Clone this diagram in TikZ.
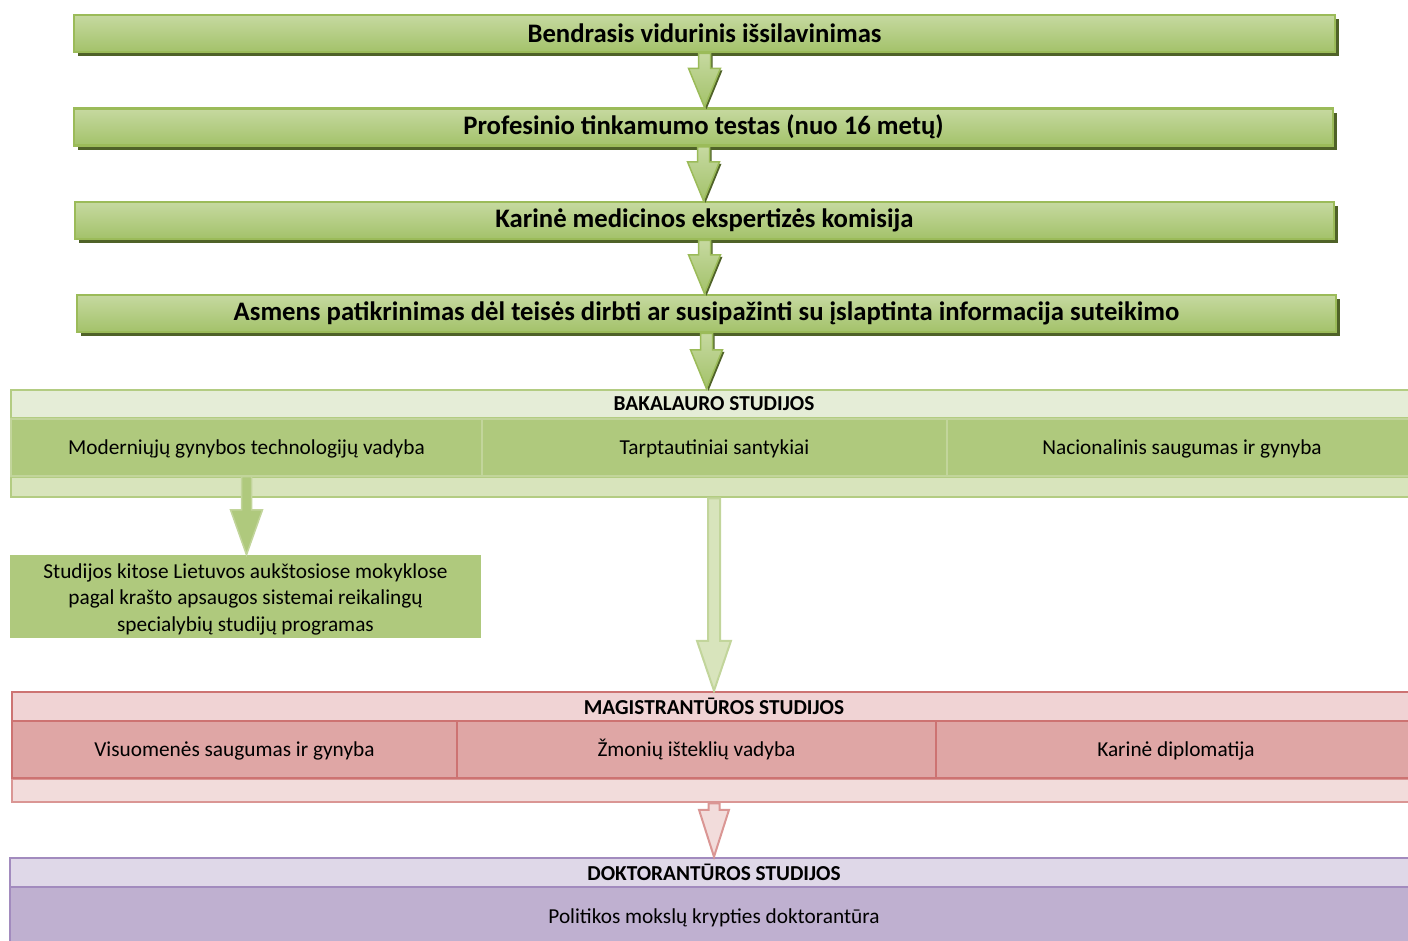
\documentclass[tikz,border=0pt]{standalone}
\usepackage{fontspec}
\setmainfont{Carlito}
\usetikzlibrary{calc,shadows}

\definecolor{gborder}{HTML}{9BBB59}
\definecolor{gtop}{HTML}{C6D9A0}
\definecolor{gbot}{HTML}{A3C26A}
\definecolor{gshadow}{HTML}{4F6228}
\definecolor{bakline}{HTML}{B3CC82}
\definecolor{bakheadfill}{HTML}{E5EDD7}
\definecolor{bakcellfill}{HTML}{AFC97D}
\definecolor{bakcellline}{HTML}{C2D59B}
\definecolor{bakfootfill}{HTML}{D8E4BC}
\definecolor{magline}{HTML}{CD7372}
\definecolor{magheadfill}{HTML}{F0D3D4}
\definecolor{magcellfill}{HTML}{DFA6A5}
\definecolor{magfootfill}{HTML}{F2DCDB}
\definecolor{magfootline}{HTML}{DA9694}
\definecolor{dokline}{HTML}{A28BBE}
\definecolor{dokheadfill}{HTML}{DFD8E8}
\definecolor{dokcellfill}{HTML}{BFB0D0}

\newcommand{\bodyfont}{\fontsize{21.3}{26.5}\selectfont}

% block arrow pointing down: style, from, to, shaft half width, head half width, head length
\newcommand{\blockdown}[6]{%
  \path[#1] let \p1=(#2), \p2=(#3) in
    (\x1-#4pt,\y1) -- (\x1-#4pt,\y2+#6pt) -- (\x1-#5pt,\y2+#6pt) -- (\x1,\y2)
    -- (\x1+#5pt,\y2+#6pt) -- (\x1+#4pt,\y2+#6pt) -- (\x1+#4pt,\y1) -- cycle;
}

\tikzset{
  topbox/.style={draw=gborder, line width=2.5pt, top color=gtop, bottom color=gbot,
    drop shadow={shadow xshift=4pt, shadow yshift=-4pt, fill=gshadow, opacity=1},
    minimum height=37pt, inner sep=0pt, text=black,
    font=\fontsize{26.7}{32}\selectfont\bfseries},
  toparrow/.style={draw=gborder, line width=1.5pt, top color=gtop, bottom color=gbot,
    drop shadow={shadow xshift=2pt, shadow yshift=-2pt, fill=gshadow, opacity=1}},
  headbox/.style={line width=2.5pt, inner sep=0pt, minimum height=28pt,
    font=\bodyfont\bfseries},
  cellbox/.style={line width=2pt, inner sep=0pt, minimum height=57pt, font=\bodyfont,
    text height=18.5pt, text depth=4.5pt},
  footbox/.style={line width=2.5pt, inner sep=0pt},
}

\begin{document}
\begin{tikzpicture}[x=1pt, y=-1pt]
  \useasboundingbox (0,0) rectangle (1408,940);
  \clip (0,0) rectangle (1408,940);

  % Entry steps
  \node[topbox, minimum width=1261pt] (vid) at (704.5,33.5) {Bendrasis vidurinis išsilavinimas};
  \node[topbox, minimum width=1259pt] (prof) at (703.5,127) {Profesinio tinkamumo testas (nuo 16 metų)};
  \node[topbox, minimum width=1259pt] (kmek) at (704.5,220.5) {Karinė medicinos ekspertizės komisija};
  \node[topbox, minimum width=1259pt] (asm) at (706.5,313.5) {Asmens patikrinimas dėl teisės dirbti ar susipažinti su įslaptinta informacija suteikimo};

  \blockdown{toparrow}{vid.south}{prof.north}{6}{16}{39}
  \blockdown{toparrow}{prof.south}{kmek.north}{6}{16}{39}
  \blockdown{toparrow}{kmek.south}{asm.north}{6}{16}{39}

  % Bakalauro studijos
  \node[headbox, draw=bakline, fill=bakheadfill, minimum width=1406pt] (bakhead) at (714,404) {BAKALAURO STUDIJOS};
  \node[footbox, draw=bakline, fill=bakfootfill, minimum width=1406pt, minimum height=20pt] (bakfoot) at (714,487) {};
  \node[cellbox, draw=bakcellline, fill=bakcellfill, minimum width=471pt] (bakA) at (246.5,447) {Moderniųjų gynybos technologijų vadyba};
  \node[cellbox, draw=bakcellline, fill=bakcellfill, minimum width=465pt] (bakB) at (714.5,447) {Tarptautiniai santykiai};
  \node[cellbox, draw=bakcellline, fill=bakcellfill, minimum width=470pt] (bakC) at (1182,447) {Nacionalinis saugumas ir gynyba};

  \blockdown{toparrow}{asm.south}{bakhead.north}{6}{16}{39}

  % Studijos kitose mokyklose
  \node[fill=bakcellfill, minimum width=471pt, minimum height=83pt, inner sep=0pt,
    font=\bodyfont, align=center, text height=74pt, text depth=4.5pt] (kitos) at (245.5,596.5)
    {Studijos kitose Lietuvos aukštosiose mokyklose\\pagal krašto apsaugos sistemai reikalingų\\specialybių studijų programas};
  \blockdown{draw=bakcellline, line width=1.5pt, fill=bakcellfill}{bakA.south}{kitos.north}{5}{16}{45}

  % Magistrantūros studijos
  \node[headbox, draw=magline, fill=magheadfill, minimum width=1404pt, minimum height=29pt] (maghead) at (714,706.5) {MAGISTRANTŪROS STUDIJOS};
  \node[footbox, draw=magfootline, fill=magfootfill, minimum width=1404pt, minimum height=23pt] (magfoot) at (714,790.5) {};
  \node[cellbox, draw=magline, fill=magcellfill, minimum width=445pt] (magA) at (234.5,749.5) {Visuomenės saugumas ir gynyba};
  \node[cellbox, draw=magline, fill=magcellfill, minimum width=479pt] (magB) at (696.5,749.5) {Žmonių išteklių vadyba};
  \node[cellbox, draw=magline, fill=magcellfill, minimum width=480pt] (magC) at (1176,749.5) {Karinė diplomatija};

  \blockdown{draw=bakcellline, line width=2pt, fill=bakfootfill}{bakfoot.south}{maghead.north}{6}{17}{50}

  % Doktorantūros studijos
  \node[headbox, draw=dokline, fill=dokheadfill, minimum width=1408pt, minimum height=29pt] (dokhead) at (714,872.5) {DOKTORANTŪROS STUDIJOS};
  \node[cellbox, draw=dokline, fill=dokcellfill, minimum width=1408pt, minimum height=58pt] (dokA) at (714,916) {Politikos mokslų krypties doktorantūra};

  \blockdown{draw=magfootline, line width=2pt, fill=magfootfill}{magfoot.south}{dokhead.north}{5.5}{15}{47}
\end{tikzpicture}
\end{document}
